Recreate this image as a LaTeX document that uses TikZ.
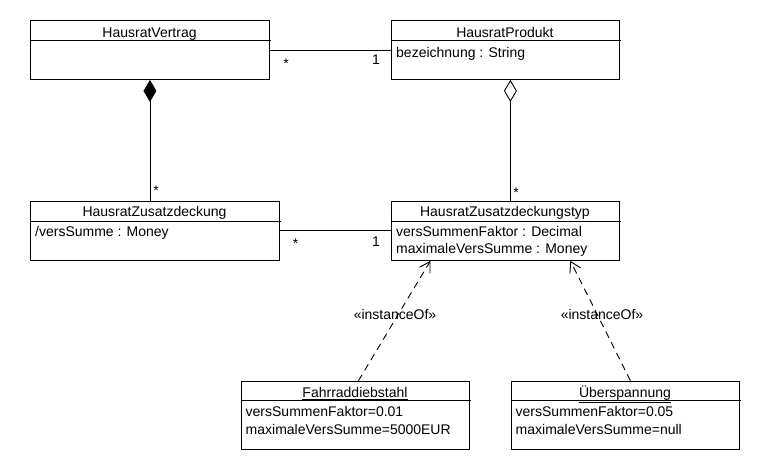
\documentclass[tikz,border=0pt]{standalone}
\usepackage{fontspec}
\setmainfont{Liberation Sans}
\usetikzlibrary{arrows.meta}
\begin{document}
\begin{tikzpicture}[x=1pt,y=-1pt,
  every node/.style={font=\fontsize{14}{17}\selectfont},
  cls/.style={draw,line width=0.9pt,rectangle,anchor=north west,inner sep=0pt,minimum width=#1},
  hdr/.style={anchor=base,inner sep=0pt},
  attr/.style={anchor=base west,inner sep=0pt},
  mult/.style={anchor=base,inner sep=0pt},
  conn/.style={line width=0.9pt},
  dep/.style={line width=0.9pt,dash pattern=on 7pt off 5pt,-{Straight Barb[length=10pt,width=12pt]}},
]
\useasboundingbox (0,0) rectangle (760,470);

% class boxes
\node[cls=239pt,minimum height=58.7pt] (hv) at (30,20.3) {};
\node[cls=228.3pt,minimum height=58.7pt] (hp) at (390.7,20.3) {};
\node[cls=249pt,minimum height=59.3pt] (hz) at (30,200.7) {};
\node[cls=228.3pt,minimum height=59.3pt] (ht) at (390.7,200.7) {};
\node[cls=228pt,minimum height=68pt] (fd) at (241,380.7) {};
\node[cls=228pt,minimum height=68pt] (ue) at (511,380.7) {};

% dividers
\draw[conn] (30,40.3) -- (271,40.3);
\draw[conn] (390.7,40.3) -- (621,40.3);
\draw[conn] (30,221) -- (281,221);
\draw[conn] (390.7,221) -- (621,221);
\draw[conn] (241,400.7) -- (471,400.7);
\draw[conn] (511,400.7) -- (741,400.7);

% headers
\node[hdr] (hvt) at (149.5,37.5) {HausratVertrag};
\node[hdr] (hpt) at (504.9,37.5) {HausratProdukt};
\node[hdr] (hzt) at (154.5,217) {HausratZusatzdeckung};
\node[hdr] (htt) at (504.9,217) {HausratZusatzdeckungstyp};
\node[hdr] (fdt) at (355,397.5) {\underline{Fahrraddiebstahl}};
\node[hdr] (uet) at (625,397.5) {\underline{Überspannung}};

% attributes
\node[attr] (hpa) at (396,57.5) {bezeichnung : String};
\node[attr] (hza) at (35,237) {/versSumme : Money};
\node[attr] (hta1) at (396,237) {versSummenFaktor : Decimal};
\node[attr] (hta2) at (396,254) {maximaleVersSumme : Money};
\node[attr] (fda1) at (245.5,416) {versSummenFaktor=0.01};
\node[attr] (fda2) at (245.5,434) {maximaleVersSumme=5000EUR};
\node[attr] (uea1) at (515.5,416) {versSummenFaktor=0.05};
\node[attr] (uea2) at (515.5,434) {maximaleVersSumme=null};

% associations
\draw[conn] (hv.east) -- (hp.west);
\node[mult] (m1) at (286,69) {*};
\node[mult] (m2) at (376,65) {1};
\draw[conn] (hz.east) -- (ht.west);
\node[mult] (m3) at (295.5,249) {*};
\node[mult] (m4) at (376,246.5) {1};

% composition
\draw[conn,{Diamond[length=22pt,width=13pt]}-] (hv.south) -- (hv.south |- hz.north);
\node[mult] (m5) at (156,196) {*};

% aggregation
\coordinate (agtop) at ([xshift=5.1pt]hp.south);
\draw[conn,{Diamond[open,length=22pt,width=13pt]}-] (agtop) -- (agtop |- ht.north);
\node[mult] (m6) at (516,197.5) {*};

% instanceOf dependencies
\draw[dep] ([xshift=3pt]fd.north) -- ([xshift=-74.9pt]ht.south);
\draw[dep] ([xshift=5pt]ue.north) -- ([xshift=65.1pt]ht.south);
\node[hdr] (io1) at (395,319) {«instanceOf»};
\node[hdr] (io2) at (602,319) {«instanceOf»};
\end{tikzpicture}
\end{document}
